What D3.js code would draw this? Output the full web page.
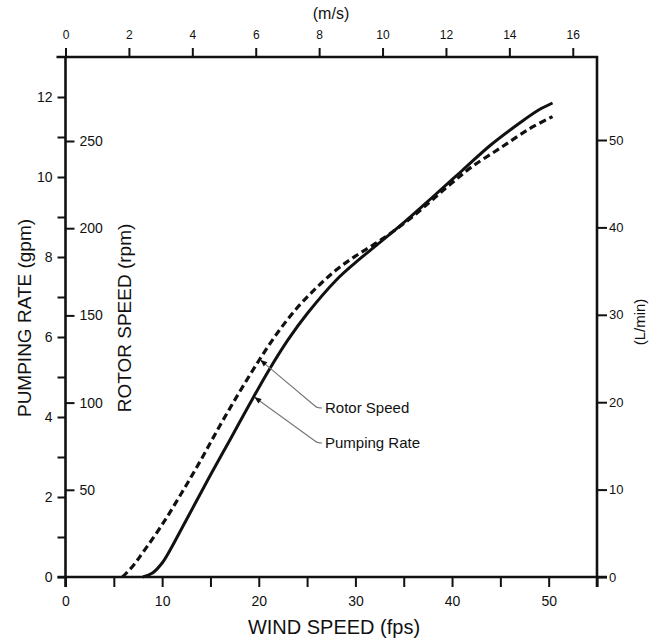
<!DOCTYPE html>
<html>
<head>
<meta charset="utf-8">
<script src="https://cdn.jsdelivr.net/npm/d3@7"></script>
<style>
  html, body { margin: 0; padding: 0; background: #fff; }
  svg { display: block; }
  text { font-family: "Liberation Sans", Arial, Helvetica, sans-serif; fill: #111; }
</style>
</head>
<body>
<script>
// ---- data ----
const pumpFps  = [8.0, 9, 10, 11, 12, 13, 14, 15, 17, 19, 21, 23, 25, 28, 30, 32, 35, 38, 41, 44, 47, 49, 50.4];
const pumpGpm  = [0, 0.1, 0.35, 0.75, 1.2, 1.65, 2.1, 2.55, 3.42, 4.3, 5.15, 5.92, 6.58, 7.42, 7.86, 8.26, 8.86, 9.5, 10.15, 10.8, 11.35, 11.68, 11.85];
const rotorFps = [5.9, 7, 8, 10, 12, 14, 16, 18, 20, 22, 24, 26, 28, 30, 32, 34, 36, 38, 40, 42, 45, 48, 50.4];
const rotorRpm = [0, 6.5, 14, 30, 48, 67, 87, 106, 124, 140.5, 154.5, 166, 176, 184, 191, 198.5, 207, 216.5, 226, 235, 246, 257, 264];

const fpsTicks   = [0, 5, 10, 15, 20, 25, 30, 35, 40, 45, 50, 55];
const msTicks    = [0, 2, 4, 6, 8, 10, 12, 14, 16];
const gpmTicks   = [0, 1, 2, 3, 4, 5, 6, 7, 8, 9, 10, 11, 12];
const rpmTicks   = [50, 100, 150, 200, 250];
const lminTicks  = [0, 10, 20, 30, 40, 50];

const annotLabels = ["Rotor Speed", "Pumping Rate"];
const annotFps    = [20.1, 19.5];

const title = { x: "WIND SPEED (fps)", top: "(m/s)", gpm: "PUMPING RATE (gpm)", rpm: "ROTOR SPEED (rpm)", lmin: "(L/min)" };

// ---- layout ----
const W = 660, H = 640;
const L = 65.5, R = 597, T = 57, B = 577;

const svg = d3.select("body").append("svg").attr("width", W).attr("height", H);

const x    = d3.scaleLinear().domain([0, 55]).range([L, R]);
const xMs  = d3.scaleLinear().domain([0, 55 / 3.2808]).range([L, R]);
const yG   = d3.scaleLinear().domain([0, 13]).range([B, T]);
const yR   = d3.scaleLinear().domain([0, 250]).range([B, 141]);
const yL   = d3.scaleLinear().domain([0, 50]).range([B, 140]);

function styleAxis(g, fs) {
  g.select(".domain").remove();
  g.selectAll(".tick line").attr("stroke", "#111").attr("stroke-width", 2);
  g.selectAll(".tick text").attr("font-size", fs).attr("fill", "#111")
    .attr("font-family", '"Liberation Sans", Arial, Helvetica, sans-serif');
}

// bottom axis (fps)
svg.append("g").attr("transform", `translate(0,${B})`)
  .call(d3.axisBottom(x).tickValues(fpsTicks).tickSize(10).tickPadding(9)
    .tickFormat(d => (d % 10 === 0) ? d : ""))
  .call(g => styleAxis(g, 14));

// top axis (m/s)
svg.append("g").attr("transform", `translate(0,${T})`)
  .call(d3.axisTop(xMs).tickValues(msTicks).tickSize(9).tickPadding(9))
  .call(g => styleAxis(g, 12));

// left axis (gpm)
svg.append("g").attr("transform", `translate(${L},0)`)
  .call(d3.axisLeft(yG).tickValues(gpmTicks).tickSize(8).tickPadding(5)
    .tickFormat(d => (d % 2 === 0) ? d : ""))
  .call(g => styleAxis(g, 14));

// inner rpm axis
svg.append("g").attr("transform", `translate(${L},0)`)
  .call(d3.axisRight(yR).tickValues(rpmTicks).tickSize(9).tickPadding(5))
  .call(g => styleAxis(g, 14));

// right axis (L/min)
svg.append("g").attr("transform", `translate(${R},0)`)
  .call(d3.axisRight(yL).tickValues(lminTicks).tickSize(10).tickPadding(2))
  .call(g => styleAxis(g, 13));

// frame lines
const frame = svg.append("g").attr("stroke", "#111").attr("stroke-width", 2.6).attr("fill", "none");
frame.append("line").attr("x1", L).attr("x2", L).attr("y1", T - 1).attr("y2", B + 10);
frame.append("line").attr("x1", R).attr("x2", R).attr("y1", T - 1).attr("y2", B + 10);
frame.append("line").attr("x1", L - 9).attr("x2", R + 1).attr("y1", T).attr("y2", T);
frame.append("line").attr("x1", L - 8).attr("x2", R + 10).attr("y1", B).attr("y2", B);

// curves
const pumpData  = pumpFps.map((f, i) => ({ f, v: pumpGpm[i] }));
const rotorData = rotorFps.map((f, i) => ({ f, v: rotorRpm[i] }));

svg.append("path").datum(rotorData)
  .attr("fill", "none").attr("stroke", "#111").attr("stroke-width", 3.2)
  .attr("stroke-dasharray", "7,4")
  .attr("d", d3.line().x(d => x(d.f)).y(d => yR(d.v)).curve(d3.curveCatmullRom.alpha(0.5)));

svg.append("path").datum(pumpData)
  .attr("fill", "none").attr("stroke", "#111").attr("stroke-width", 3)
  .attr("d", d3.line().x(d => x(d.f)).y(d => yG(d.v)).curve(d3.curveCatmullRom.alpha(0.5)));

// annotations
const rotorAt = d3.scaleLinear().domain(rotorFps).range(rotorRpm);
const pumpAt  = d3.scaleLinear().domain(pumpFps).range(pumpGpm);
const tips = [
  [x(annotFps[0]), yR(rotorAt(annotFps[0]))],
  [x(annotFps[1]), yG(pumpAt(annotFps[1]))]
];
const labelPos = [[325, 413], [325, 448]];

svg.append("defs").append("marker")
  .attr("id", "arr").attr("viewBox", "0 0 10 10").attr("refX", 9).attr("refY", 5)
  .attr("markerWidth", 9).attr("markerHeight", 7).attr("markerUnits", "userSpaceOnUse")
  .attr("orient", "auto")
  .append("path").attr("d", "M0,1 L10,5 L0,9 Z").attr("fill", "#111");

annotLabels.forEach((lab, i) => {
  const [tx, ty] = tips[i];
  const [lx, ly] = labelPos[i];
  const p = d3.path();
  p.moveTo(lx - 3, ly - 5);
  p.quadraticCurveTo(lx - 8, ly - 5, lx - 10, ly - 7);
  p.lineTo(tx + 1, ty + 1);
  svg.append("path").attr("d", p.toString())
    .attr("fill", "none").attr("stroke", "#777").attr("stroke-width", 1.1)
    .attr("marker-end", "url(#arr)");
  svg.append("text").attr("x", lx).attr("y", ly).attr("font-size", 15).text(lab);
});

// titles
svg.append("text").attr("x", 334).attr("y", 634).attr("text-anchor", "middle")
  .attr("font-size", 20).text(title.x);
svg.append("text").attr("x", 331).attr("y", 19).attr("text-anchor", "middle")
  .attr("font-size", 16).text(title.top);
svg.append("text").attr("transform", "translate(31,318) rotate(-90)")
  .attr("text-anchor", "middle").attr("font-size", 19).text(title.gpm);
svg.append("text").attr("transform", "translate(131,318) rotate(-90)")
  .attr("text-anchor", "middle").attr("font-size", 19).text(title.rpm);
svg.append("text").attr("transform", "translate(645,322) rotate(-90)")
  .attr("text-anchor", "middle").attr("font-size", 15).text(title.lmin);
</script>
</body>
</html>
